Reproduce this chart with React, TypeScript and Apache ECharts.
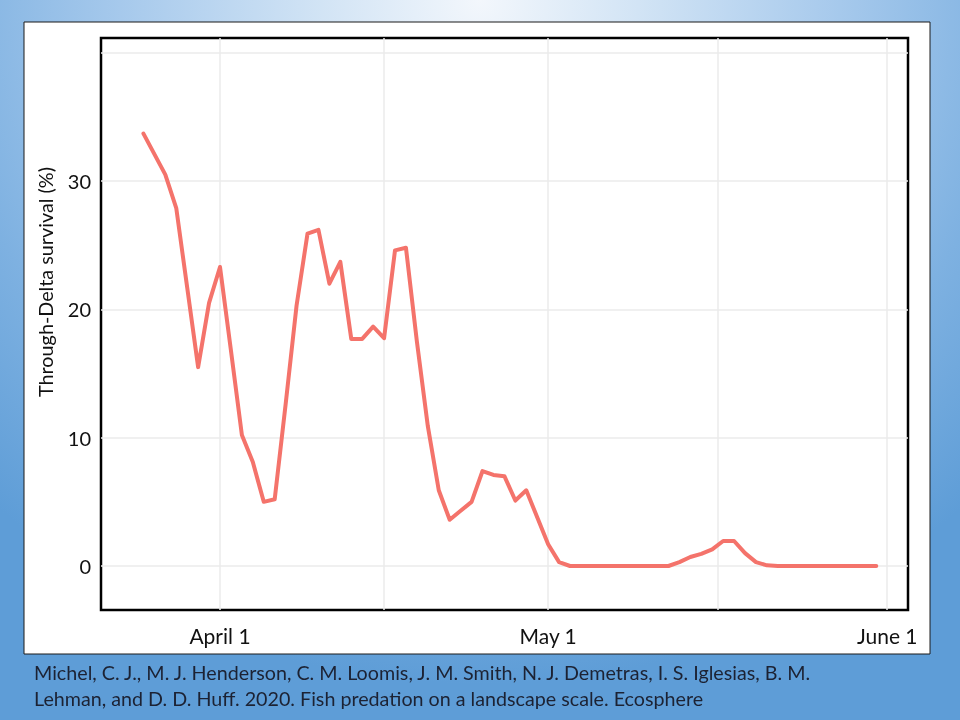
import React, { useEffect, useRef } from "react";
import * as echarts from "echarts";

// Days relative to April 1 (0 = April 1)
const firstDay = -7;
const survival = [
  33.7, 32.1, 30.5, 27.9, 21.7, 15.5, 20.5, // Mar 25 - Mar 31
  23.3, 16.8, 10.2, 8.1, 5.0, 5.2, 12.6, 20.3, 25.9, 26.2, // Apr 1 - Apr 10
  22.0, 23.7, 17.7, 17.7, 18.65, 17.75, 24.6, 24.8, 17.5, 10.9, // Apr 11 - Apr 20
  5.9, 3.6, 4.3, 5.0, 7.4, 7.1, 7.0, 5.1, 5.9, 3.8, // Apr 21 - Apr 30
  1.7, 0.3, 0, 0, 0, 0, 0, 0, 0, 0, // May 1 - May 10
  0, 0, 0.3, 0.7, 0.95, 1.3, 1.95, 1.95, 1.0, 0.3, // May 11 - May 20
  0.05, 0, 0, 0, 0, 0, 0, 0, 0, 0, // May 21 - May 30
  0, // May 31
];

const xTickDays = [0, 30, 61];
const xTickLabels = ["April 1", "May 1", "June 1"];
const xGridDays = [0, 15, 30, 45.5, 61];
const yTicks = [0, 10, 20, 30];
const yGridValues = [0, 10, 20, 30, 40];

const yAxisTitle = "Through-Delta survival (%)";
const captionLines = [
  "Michel, C. J., M. J. Henderson, C. M. Loomis, J. M. Smith, N. J. Demetras, I. S. Iglesias, B. M.",
  "Lehman, and D. D. Huff. 2020. Fish predation on a landscape scale. Ecosphere",
];

const FONT = "Lato, 'Open Sans', sans-serif";

export default function App() {
  const ref = useRef<HTMLDivElement>(null);

  useEffect(() => {
    if (!ref.current) return;
    const chart = echarts.init(ref.current, null, { renderer: "svg" });
    const lineData = survival.map((v, i) => [firstDay + i, v]);

    const gridLineData: any[] = [
      ...xGridDays.map((d) => ({ xAxis: d })),
      ...yGridValues.map((v) => ({ yAxis: v })),
    ];

    chart.setOption({
      animation: false,
      textStyle: { fontFamily: FONT },
      grid: {
        left: 101,
        right: 52,
        top: 38,
        bottom: 110,
        show: true,
        backgroundColor: "#ffffff",
        borderColor: "#000000",
        borderWidth: 2.5,
        z: 1,
      },
      xAxis: {
        type: "value",
        min: -10.88,
        max: 62.9,
        axisLine: { show: false },
        axisTick: { show: false },
        splitLine: { show: false },
        axisLabel: {
          customValues: xTickDays,
          formatter: (v: number) => {
            const i = xTickDays.indexOf(v);
            return i >= 0 ? xTickLabels[i] : "";
          },
          fontFamily: FONT,
          fontSize: 21,
          color: "#111111",
          margin: 15,
          showMinLabel: true,
          showMaxLabel: true,
          hideOverlap: false,
        },
      },
      yAxis: {
        type: "value",
        min: -3.43,
        max: 41.15,
        axisLine: { show: false },
        axisTick: { show: false },
        splitLine: { show: false },
        axisLabel: {
          customValues: yTicks,
          fontFamily: FONT,
          fontSize: 20,
          color: "#111111",
          margin: 10,
          showMinLabel: true,
          showMaxLabel: true,
        },
      },
      series: [
        {
          type: "line",
          data: [],
          silent: true,
          z: 1,
          markLine: {
            silent: true,
            symbol: ["none", "none"],
            label: { show: false },
            lineStyle: { color: "#EBEBEB", width: 1.5, type: "solid" },
            emphasis: { disabled: true },
            data: gridLineData,
          },
        },
        {
          type: "line",
          data: lineData,
          showSymbol: false,
          symbol: "none",
          z: 5,
          lineStyle: { color: "#F4736B", width: 4, join: "round", cap: "round" },
        },
      ],
      graphic: [
        {
          type: "rect",
          z: -10,
          silent: true,
          shape: { x: 24, y: 22, width: 906, height: 632 },
          style: { fill: "#ffffff", stroke: "#1a1a1a", lineWidth: 1 },
        },
        {
          type: "text",
          z: 10,
          x: 45,
          y: 282,
          rotation: Math.PI / 2,
          style: {
            text: yAxisTitle,
            fontFamily: FONT,
            fontSize: 19.8,
            fill: "#111111",
            align: "center",
            verticalAlign: "middle",
          },
        },
        ...captionLines.map((t, i) => ({
          type: "text",
          z: 10,
          x: 34,
          y: 672 + i * 26,
          style: {
            text: t,
            fontFamily: FONT,
            fontSize: 19.7,
            fill: "#1c2233",
            align: "left",
            verticalAlign: "middle",
          },
        })),
      ],
    });
    return () => chart.dispose();
  }, []);

  return (
    <div
      style={{
        position: "fixed",
        left: 0,
        top: 0,
        width: 960,
        height: 720,
        background:
          "radial-gradient(ellipse 75% 95% at 50% 0%, #f3f7fc 0%, #d2e4f5 22%, #a6c9ec 50%, #7eb1e1 75%, #5e9dd7 100%)",
      }}
    >
      <div ref={ref} style={{ width: 960, height: 720 }} />
    </div>
  );
}
